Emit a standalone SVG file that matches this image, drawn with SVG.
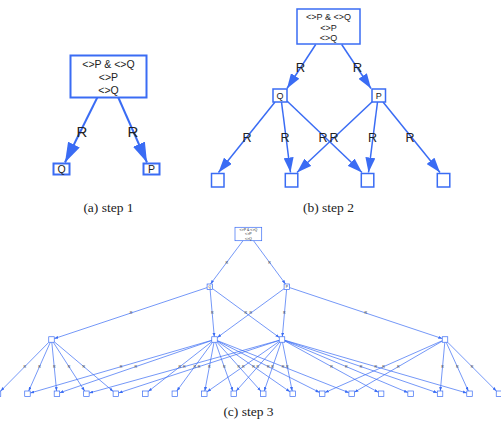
<svg xmlns="http://www.w3.org/2000/svg" width="501" height="427" viewBox="0 0 501 427">
<defs>
<style>
.bx{fill:#fff;stroke:#3a6cf4}
.e{fill:none;stroke:#3a6cf4}
.t{font-family:"Liberation Sans",Arial,sans-serif;fill:#222;text-anchor:middle}
.cap{font-family:"Liberation Serif","Times New Roman",serif;font-size:13.5px;fill:#222;text-anchor:middle}
.s1 .bx,.s1 .e{stroke-width:2}
.s2 .bx,.s2 .e{stroke-width:1.5}
.s3 .bx,.s3 .e{stroke-width:0.7}
.s3 .r{font-size:3.6px;fill:#333}
</style>
<marker id="a1" viewBox="0 0 10 10" refX="10" refY="5" markerWidth="20" markerHeight="13" markerUnits="userSpaceOnUse" orient="auto" preserveAspectRatio="none"><path d="M0,0L10,5L0,10z" fill="#3a6cf4"/></marker>
<marker id="a2" viewBox="0 0 10 10" refX="10" refY="5" markerWidth="15" markerHeight="10" markerUnits="userSpaceOnUse" orient="auto" preserveAspectRatio="none"><path d="M0,0L10,5L0,10z" fill="#3a6cf4"/></marker>
<marker id="a3" viewBox="0 0 10 10" refX="10" refY="5" markerWidth="4" markerHeight="3" markerUnits="userSpaceOnUse" orient="auto" preserveAspectRatio="none"><path d="M0,0L10,5L0,10z" fill="#3a6cf4"/></marker>
</defs>
<rect width="501" height="427" fill="#fff"/>

<!-- step 1 -->
<g class="s1">
<g id="connectors1">
<line class="e" x1="97.3" y1="97.5" x2="65" y2="162.5" marker-end="url(#a1)"/>
<line class="e" x1="118.3" y1="97.5" x2="147" y2="162.5" marker-end="url(#a1)"/>
<text class="t" x="82" y="137" font-size="15">R</text>
<text class="t" x="133" y="137" font-size="15">R</text>
</g>
<g id="s1_root">
<rect class="bx" x="70.5" y="55.5" width="76" height="42"/>
<text class="t" x="108.5" y="68" font-size="10.5">&lt;&gt;P &amp; &lt;&gt;Q</text>
<text class="t" x="108.5" y="80.5" font-size="10.5">&lt;&gt;P</text>
<text class="t" x="108.5" y="93.5" font-size="10.5">&lt;&gt;Q</text>
</g>
<g id="s1_Q">
<rect class="bx" x="53.5" y="163.5" width="16" height="11"/>
<text class="t" x="61.5" y="172.8" font-size="10.5">Q</text>
</g>
<g id="s1_P">
<rect class="bx" x="143.5" y="163.5" width="16" height="11"/>
<text class="t" x="151.5" y="172.8" font-size="10.5">P</text>
</g>
</g>

<!-- step 2 -->
<g class="s2">
<g id="connectors2">
<line class="e" x1="315.7" y1="44.5" x2="287" y2="88.5" marker-end="url(#a2)"/>
<line class="e" x1="341.7" y1="44.5" x2="371" y2="88.5" marker-end="url(#a2)"/>
<line class="e" x1="275" y1="102" x2="218.5" y2="172.5" marker-end="url(#a2)"/>
<line class="e" x1="281.5" y1="102" x2="290.5" y2="172.5" marker-end="url(#a2)"/>
<line class="e" x1="287" y1="101" x2="362" y2="172.5" marker-end="url(#a2)"/>
<line class="e" x1="373" y1="101" x2="297" y2="172.5" marker-end="url(#a2)"/>
<line class="e" x1="377.5" y1="102" x2="368.5" y2="172.5" marker-end="url(#a2)"/>
<line class="e" x1="383" y1="102" x2="440" y2="172.5" marker-end="url(#a2)"/>
<text class="t" x="300.5" y="71.5" font-size="13">R</text>
<text class="t" x="357.5" y="71.5" font-size="13">R</text>
<text class="t" x="247" y="141.5" font-size="12.5">R</text>
<text class="t" x="285" y="141.5" font-size="12.5">R</text>
<text class="t" x="323" y="141.5" font-size="12.5">R</text>
<text class="t" x="334" y="141.5" font-size="12.5">R</text>
<text class="t" x="372.5" y="141.5" font-size="12.5">R</text>
<text class="t" x="410" y="141.5" font-size="12.5">R</text>
</g>
<g id="s2_root">
<rect class="bx" x="297" y="9" width="63" height="35"/>
<text class="t" x="328.5" y="20" font-size="9">&lt;&gt;P &amp; &lt;&gt;Q</text>
<text class="t" x="328.5" y="30.7" font-size="9">&lt;&gt;P</text>
<text class="t" x="328.5" y="41" font-size="9">&lt;&gt;Q</text>
</g>
<g id="s2_Q">
<rect class="bx" x="273" y="89" width="14" height="13"/>
<text class="t" x="280" y="99" font-size="9">Q</text>
</g>
<g id="s2_P">
<rect class="bx" x="372" y="89" width="13.5" height="13"/>
<text class="t" x="378.7" y="99" font-size="9">P</text>
</g>
<g id="s2_n1"><rect class="bx" x="211.5" y="173.5" width="12.5" height="13.5"/></g>
<g id="s2_n2"><rect class="bx" x="285.3" y="173.5" width="12.5" height="13.5"/></g>
<g id="s2_n3"><rect class="bx" x="361.3" y="173.5" width="12.5" height="13.5"/></g>
<g id="s2_n4"><rect class="bx" x="437.3" y="173.5" width="12.5" height="13.5"/></g>
</g>

<!-- step 3 -->
<g class="s3">
<g id="connectors3">
<line class="e" x1="243" y1="240.7" x2="210.5" y2="284" marker-end="url(#a3)"/>
<line class="e" x1="253.5" y1="240.7" x2="285.5" y2="284" marker-end="url(#a3)"/>
<line class="e" x1="207.1" y1="287.6" x2="54.3" y2="338.6" marker-end="url(#a3)"/>
<line class="e" x1="210.1" y1="289.4" x2="214.3" y2="336.8" marker-end="url(#a3)"/>
<line class="e" x1="212.6" y1="288.7" x2="279.3" y2="337.5" marker-end="url(#a3)"/>
<line class="e" x1="284.1" y1="288.7" x2="217.3" y2="337.5" marker-end="url(#a3)"/>
<line class="e" x1="286.6" y1="289.4" x2="282.3" y2="336.8" marker-end="url(#a3)"/>
<line class="e" x1="289.6" y1="287.6" x2="442.3" y2="338.6" marker-end="url(#a3)"/>
<!-- A -->
<line class="e" x1="48.8" y1="342.3" x2="0.7" y2="391" marker-end="url(#a3)"/>
<line class="e" x1="50.3" y1="342.3" x2="28.7" y2="391" marker-end="url(#a3)"/>
<line class="e" x1="51.8" y1="342.3" x2="56.6" y2="391" marker-end="url(#a3)"/>
<line class="e" x1="53.3" y1="342.3" x2="84.6" y2="391" marker-end="url(#a3)"/>
<line class="e" x1="54.3" y1="341.8" x2="113.2" y2="391.4" marker-end="url(#a3)"/>
<!-- B -->
<line class="e" x1="211.8" y1="340.3" x2="30.3" y2="393" marker-end="url(#a3)"/>
<line class="e" x1="211.8" y1="340.5" x2="59.7" y2="392.8" marker-end="url(#a3)"/>
<line class="e" x1="211.8" y1="341.7" x2="148.1" y2="391.6" marker-end="url(#a3)"/>
<line class="e" x1="212.5" y1="342.3" x2="176.8" y2="391" marker-end="url(#a3)"/>
<line class="e" x1="214" y1="342.3" x2="204.8" y2="391" marker-end="url(#a3)"/>
<line class="e" x1="215.5" y1="342.3" x2="232.8" y2="391" marker-end="url(#a3)"/>
<line class="e" x1="217" y1="342.3" x2="260.8" y2="391" marker-end="url(#a3)"/>
<line class="e" x1="217.3" y1="341.4" x2="290" y2="391.8" marker-end="url(#a3)"/>
<line class="e" x1="217.3" y1="340.9" x2="319.5" y2="392.4" marker-end="url(#a3)"/>
<line class="e" x1="217.3" y1="340.6" x2="348.9" y2="392.7" marker-end="url(#a3)"/>
<!-- C -->
<line class="e" x1="279.3" y1="340.3" x2="89.2" y2="393" marker-end="url(#a3)"/>
<line class="e" x1="279.3" y1="340.4" x2="118.7" y2="392.9" marker-end="url(#a3)"/>
<line class="e" x1="279.3" y1="341.4" x2="207.1" y2="391.8" marker-end="url(#a3)"/>
<line class="e" x1="279.6" y1="342.3" x2="236.2" y2="391" marker-end="url(#a3)"/>
<line class="e" x1="281.1" y1="342.3" x2="264.2" y2="391" marker-end="url(#a3)"/>
<line class="e" x1="282.5" y1="342.3" x2="292.2" y2="391" marker-end="url(#a3)"/>
<line class="e" x1="284.8" y1="341" x2="378.4" y2="392.3" marker-end="url(#a3)"/>
<line class="e" x1="284.8" y1="340.7" x2="407.9" y2="392.6" marker-end="url(#a3)"/>
<line class="e" x1="284.8" y1="340.4" x2="437.3" y2="392.8" marker-end="url(#a3)"/>
<line class="e" x1="284.8" y1="340.3" x2="466.8" y2="393" marker-end="url(#a3)"/>
<!-- D -->
<line class="e" x1="442.3" y1="340.7" x2="325" y2="392.5" marker-end="url(#a3)"/>
<line class="e" x1="442.3" y1="341.1" x2="354.4" y2="392.2" marker-end="url(#a3)"/>
<line class="e" x1="444.8" y1="342.3" x2="440.3" y2="391" marker-end="url(#a3)"/>
<line class="e" x1="446.2" y1="342.3" x2="468.3" y2="391" marker-end="url(#a3)"/>
<line class="e" x1="447.7" y1="342.3" x2="496.3" y2="391" marker-end="url(#a3)"/>
<g class="t r">
<text x="226.8" y="263.5">R</text><text x="269.5" y="263.5">R</text>
<text x="131.1" y="314.3">R</text><text x="212.2" y="314.3">R</text><text x="245.9" y="314.3">R</text>
<text x="250.7" y="314.3">R</text><text x="284.4" y="314.3">R</text><text x="365.9" y="314.3">R</text>
<text x="24.8" y="367.8">R</text><text x="39.5" y="367.8">R</text><text x="54.2" y="367.8">R</text><text x="69" y="367.8">R</text><text x="83.7" y="367.8">R</text>
<text x="121" y="367.8">R</text><text x="135.7" y="367.8">R</text><text x="179.9" y="367.8">R</text><text x="194.7" y="367.8">R</text><text x="209.4" y="367.8">R</text>
<text x="224.2" y="367.8">R</text><text x="238.9" y="367.8">R</text><text x="253.6" y="367.8">R</text><text x="268.4" y="367.8">R</text><text x="283.1" y="367.8">R</text>
<text x="184.2" y="367.8">R</text><text x="199" y="367.8">R</text><text x="243.2" y="367.8">R</text><text x="257.9" y="367.8">R</text><text x="272.6" y="367.8">R</text>
<text x="287.4" y="367.8">R</text><text x="331.6" y="367.8">R</text><text x="346.3" y="367.8">R</text><text x="361" y="367.8">R</text><text x="375.8" y="367.8">R</text>
<text x="383.6" y="367.8">R</text><text x="398.3" y="367.8">R</text><text x="442.5" y="367.8">R</text><text x="457.3" y="367.8">R</text><text x="472" y="367.8">R</text>
</g>
</g>
<g id="s3_root">
<rect class="bx" x="235" y="227.3" width="26.7" height="13.4"/>
<text class="t" x="248.4" y="230.7" font-size="3.6">&lt;&gt;P &amp; &lt;&gt;Q</text>
<text class="t" x="248.4" y="235.2" font-size="3.6">&lt;&gt;P</text>
<text class="t" x="248.4" y="239.6" font-size="3.6">&lt;&gt;Q</text>
</g>
<g id="s3_Q"><rect class="bx" x="207.1" y="284" width="5.5" height="5.4"/><text class="t" x="209.85" y="288" font-size="3.4">Q</text></g>
<g id="s3_P"><rect class="bx" x="284.1" y="284" width="5.5" height="5.4"/><text class="t" x="286.85" y="288" font-size="3.4">P</text></g>
<g id="s3_A"><rect class="bx" x="48.75" y="336.75" width="5.5" height="5.5"/></g>
<g id="s3_B"><rect class="bx" x="211.75" y="336.75" width="5.5" height="5.5"/></g>
<g id="s3_C"><rect class="bx" x="279.25" y="336.75" width="5.5" height="5.5"/></g>
<g id="s3_D"><rect class="bx" x="442.25" y="336.75" width="5.5" height="5.5"/></g>
<g id="s3_b0"><rect class="bx" x="-4.75" y="391" width="5.5" height="5.5"/></g>
<g id="s3_b1"><rect class="bx" x="24.72" y="391" width="5.5" height="5.5"/></g>
<g id="s3_b2"><rect class="bx" x="54.19" y="391" width="5.5" height="5.5"/></g>
<g id="s3_b3"><rect class="bx" x="83.66" y="391" width="5.5" height="5.5"/></g>
<g id="s3_b4"><rect class="bx" x="113.13" y="391" width="5.5" height="5.5"/></g>
<g id="s3_b5"><rect class="bx" x="142.6" y="391" width="5.5" height="5.5"/></g>
<g id="s3_b6"><rect class="bx" x="172.07" y="391" width="5.5" height="5.5"/></g>
<g id="s3_b7"><rect class="bx" x="201.54" y="391" width="5.5" height="5.5"/></g>
<g id="s3_b8"><rect class="bx" x="231.01" y="391" width="5.5" height="5.5"/></g>
<g id="s3_b9"><rect class="bx" x="260.48" y="391" width="5.5" height="5.5"/></g>
<g id="s3_b10"><rect class="bx" x="289.95" y="391" width="5.5" height="5.5"/></g>
<g id="s3_b11"><rect class="bx" x="319.42" y="391" width="5.5" height="5.5"/></g>
<g id="s3_b12"><rect class="bx" x="348.89" y="391" width="5.5" height="5.5"/></g>
<g id="s3_b13"><rect class="bx" x="378.36" y="391" width="5.5" height="5.5"/></g>
<g id="s3_b14"><rect class="bx" x="407.83" y="391" width="5.5" height="5.5"/></g>
<g id="s3_b15"><rect class="bx" x="437.3" y="391" width="5.5" height="5.5"/></g>
<g id="s3_b16"><rect class="bx" x="466.77" y="391" width="5.5" height="5.5"/></g>
<g id="s3_b17"><rect class="bx" x="496.24" y="391" width="5.5" height="5.5"/></g>
</g>

<text class="cap" x="108.5" y="211.5">(a) step 1</text>
<text class="cap" x="328.5" y="211.5">(b) step 2</text>
<text class="cap" x="248.5" y="415.5">(c) step 3</text>
</svg>
